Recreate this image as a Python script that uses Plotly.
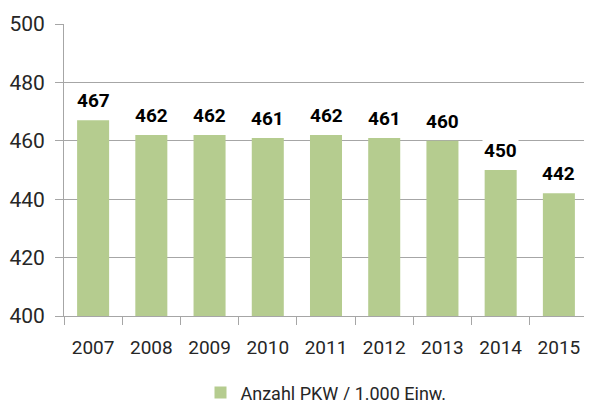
import plotly.graph_objects as go

jahre = ["2007", "2008", "2009", "2010", "2011", "2012", "2013", "2014", "2015"]
pkw_pro_1000 = [467, 462, 462, 461, 462, 461, 460, 450, 442]
y_ticks = [400, 420, 440, 460, 480, 500]

GRUEN = "#B5CC8F"
GRAU = "#A6A6A6"
TEXT = "#262626"
FONT = "Roboto, Liberation Sans, sans-serif"

fig = go.Figure(go.Bar(
    x=jahre, y=pkw_pro_1000,
    name="Anzahl PKW / 1.000 Einw.",
    marker={"color": GRUEN, "line": {"width": 0}},
))

# Datenbeschriftungen mit weißem Hintergrund (unterbricht Gitterlinien)
for i, v in enumerate(pkw_pro_1000):
    fig.add_annotation(
        x=i, y=v, text=f"<b>{v}</b>", showarrow=False,
        yanchor="bottom", yshift=6, bgcolor="white",
        font={"family": FONT, "size": 19, "color": "black"},
    )

# Seite hat ~8px Body-Rand, daher etwas kleiner
fig.update_layout(
    width=584, height=392,
    plot_bgcolor="white", paper_bgcolor="white",
    font={"family": FONT, "color": TEXT},
    margin={"l": 56, "r": 4, "t": 16, "b": 84, "autoexpand": False},
    bargap=0.45,
    showlegend=True,
    legend={"orientation": "h", "x": 0.5, "xanchor": "center", "y": -0.20,
            "yanchor": "top", "font": {"size": 18, "color": TEXT}},
    xaxis={"type": "category", "tickson": "boundaries", "ticks": "outside",
           "ticklen": 8, "tickcolor": GRAU, "showline": True, "linecolor": GRAU,
           "tickfont": {"size": 19, "color": TEXT}, "showgrid": False,
           "ticklabelstandoff": 14, "automargin": False},
    yaxis={"range": [400, 500], "tickvals": y_ticks, "ticks": "outside",
           "ticklen": 8, "tickcolor": GRAU, "showline": True,
           "linecolor": GRAU, "gridcolor": GRAU, "gridwidth": 1,
           "tickfont": {"size": 21, "color": TEXT}, "zeroline": False,
           "ticklabelstandoff": 6, "automargin": False},
)

fig.write_html("out.html")
